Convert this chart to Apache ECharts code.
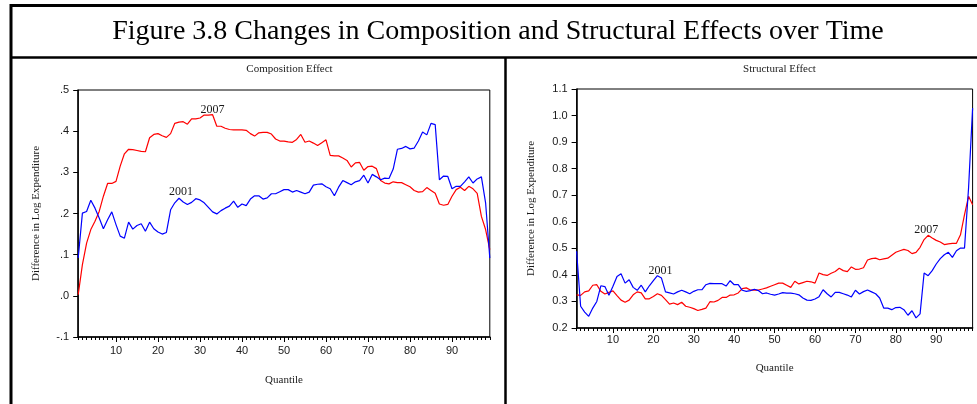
<!DOCTYPE html>
<html>
<head>
<meta charset="utf-8">
<script src="https://cdn.jsdelivr.net/npm/echarts@6/dist/echarts.min.js"></script>
<style>
  html, body { margin: 0; padding: 0; background: #fff; }
  #chart { width: 977px; height: 404px; }
</style>
</head>
<body>
<div id="chart"></div>
<script>
// quantiles 1..99 on the x axis
const quantiles = Array.from({ length: 99 }, (_, i) => i + 1);
const xMajorTicks = [10, 20, 30, 40, 50, 60, 70, 80, 90];

// Composition effect
const composition2007 = [
  0.003, 0.076, 0.128, 0.161, 0.181, 0.205, 0.242, 0.273, 0.273, 0.278,
  0.315, 0.345, 0.356, 0.355, 0.353, 0.351, 0.350, 0.384, 0.392, 0.394,
  0.389, 0.385, 0.394, 0.419, 0.422, 0.423, 0.417, 0.430, 0.430, 0.432,
  0.439, 0.439, 0.440, 0.412, 0.412, 0.407, 0.404, 0.403, 0.403, 0.403,
  0.402, 0.394, 0.388, 0.396, 0.397, 0.397, 0.393, 0.381, 0.376, 0.376,
  0.374, 0.373, 0.380, 0.392, 0.373, 0.376, 0.371, 0.365, 0.372, 0.379,
  0.341, 0.340, 0.340, 0.335, 0.329, 0.313, 0.323, 0.324, 0.305, 0.314,
  0.315, 0.309, 0.280, 0.274, 0.272, 0.277, 0.275, 0.275, 0.270, 0.265,
  0.256, 0.252, 0.253, 0.263, 0.256, 0.249, 0.223, 0.220, 0.222, 0.242,
  0.258, 0.264, 0.256, 0.266, 0.260, 0.249, 0.193, 0.161, 0.112
];
const composition2001 = [
  0.092, 0.201, 0.205, 0.232, 0.213, 0.189, 0.163, 0.185, 0.204, 0.173,
  0.145, 0.140, 0.179, 0.162, 0.171, 0.175, 0.157, 0.179, 0.163, 0.155,
  0.150, 0.154, 0.209, 0.226, 0.237, 0.228, 0.222, 0.227, 0.236, 0.233,
  0.226, 0.215, 0.204, 0.199, 0.207, 0.213, 0.218, 0.230, 0.215, 0.223,
  0.219, 0.235, 0.243, 0.243, 0.235, 0.238, 0.248, 0.248, 0.253, 0.258,
  0.258, 0.252, 0.256, 0.252, 0.248, 0.252, 0.269, 0.271, 0.272, 0.265,
  0.260, 0.243, 0.264, 0.280, 0.275, 0.270, 0.277, 0.280, 0.293, 0.274,
  0.295, 0.289, 0.282, 0.286, 0.285, 0.308, 0.356, 0.358, 0.363, 0.357,
  0.359, 0.376, 0.398, 0.391, 0.419, 0.416, 0.282, 0.291, 0.290, 0.260,
  0.266, 0.266, 0.277, 0.289, 0.274, 0.284, 0.289, 0.226, 0.092
];

// Structural effect
const structural2007 = [
  0.325, 0.323, 0.336, 0.340, 0.361, 0.363, 0.338, 0.328, 0.334, 0.340,
  0.322, 0.305, 0.297, 0.305, 0.325, 0.336, 0.332, 0.310, 0.310, 0.319,
  0.329, 0.323, 0.307, 0.290, 0.294, 0.288, 0.297, 0.282, 0.278, 0.273,
  0.266, 0.270, 0.275, 0.299, 0.298, 0.304, 0.315, 0.315, 0.324, 0.325,
  0.332, 0.348, 0.351, 0.343, 0.343, 0.343, 0.347, 0.351, 0.357, 0.363,
  0.369, 0.369, 0.361, 0.353, 0.376, 0.366, 0.371, 0.376, 0.374, 0.369,
  0.407, 0.401, 0.398, 0.406, 0.413, 0.425, 0.416, 0.412, 0.430, 0.421,
  0.422, 0.427, 0.456, 0.461, 0.463, 0.457, 0.460, 0.463, 0.474, 0.485,
  0.491, 0.496, 0.492, 0.480, 0.485, 0.504, 0.533, 0.549, 0.539, 0.530,
  0.524, 0.514, 0.517, 0.519, 0.519, 0.551, 0.627, 0.696, 0.664
];
const structural2001 = [
  0.489, 0.282, 0.260, 0.244, 0.275, 0.300, 0.359, 0.356, 0.323, 0.357,
  0.394, 0.404, 0.369, 0.382, 0.353, 0.342, 0.361, 0.336, 0.359, 0.378,
  0.397, 0.388, 0.336, 0.332, 0.328, 0.336, 0.342, 0.336, 0.329, 0.338,
  0.344, 0.344, 0.363, 0.368, 0.367, 0.367, 0.367, 0.358, 0.378, 0.363,
  0.363, 0.342, 0.338, 0.341, 0.346, 0.341, 0.329, 0.332, 0.327, 0.324,
  0.328, 0.333, 0.331, 0.331, 0.329, 0.325, 0.313, 0.305, 0.304, 0.309,
  0.318, 0.344, 0.329, 0.317, 0.334, 0.334, 0.329, 0.324, 0.317, 0.342,
  0.328, 0.337, 0.343, 0.336, 0.329, 0.313, 0.275, 0.275, 0.269, 0.277,
  0.278, 0.269, 0.248, 0.265, 0.238, 0.253, 0.407, 0.397, 0.416, 0.441,
  0.461, 0.476, 0.485, 0.466, 0.491, 0.501, 0.501, 0.727, 1.028
];

const serif = 'Liberation Serif';
const sans = 'Liberation Sans';
const ink = '#1a1a1a';

const toPairs = (vals) => vals.map((v, i) => [quantiles[i], v]);

const tag = (vals, q, text, dx, dy) => ({
  symbol: 'circle',
  symbolSize: 0,
  silent: true,
  label: {
    show: true,
    position: 'top',
    distance: 0,
    offset: [dx, dy],
    formatter: text,
    fontFamily: serif,
    fontSize: 12,
    color: ink
  },
  data: [{ coord: [q, vals[q - 1]] }]
});

const lineSeries = {
  type: 'line',
  showSymbol: false,
  symbol: 'none',
  lineStyle: { width: 1.2 }
};

const majorX = (gridIndex, margin) => ({
  type: 'value',
  gridIndex: gridIndex,
  min: 1,
  max: 99,
  position: 'bottom',
  name: 'Quantile',
  nameLocation: 'middle',
  nameGap: gridIndex === 0 ? 38 : 35,
  nameTextStyle: { fontFamily: serif, fontSize: 11, color: ink },
  axisLine: { onZero: false, lineStyle: { color: '#000', width: 1.5 } },
  axisTick: { customValues: xMajorTicks, length: 5, lineStyle: { color: '#000' } },
  axisLabel: { customValues: xMajorTicks, fontFamily: sans, fontSize: 11, color: ink, margin: margin },
  splitLine: { show: false }
});

const minorX = (gridIndex) => ({
  type: 'value',
  gridIndex: gridIndex,
  min: 1,
  max: 99,
  position: 'bottom',
  axisLine: { show: false, onZero: false },
  axisTick: { customValues: quantiles, length: 3, lineStyle: { color: '#000' } },
  axisLabel: { show: false },
  splitLine: { show: false }
});

const yAxisBase = (gridIndex, min, max, fmt, gap) => ({
  type: 'value',
  gridIndex: gridIndex,
  min: min,
  max: max,
  interval: 0.1,
  name: 'Difference in Log Expenditure',
  nameLocation: 'middle',
  nameGap: gap,
  nameTextStyle: { fontFamily: serif, fontSize: 11, color: ink },
  axisLine: { show: true, onZero: false, lineStyle: { color: '#000', width: 1.5 } },
  axisTick: { show: true, length: 5, lineStyle: { color: '#000' } },
  axisLabel: { formatter: fmt, fontFamily: sans, fontSize: 11, color: ink, margin: 9 },
  splitLine: { show: false }
});

const chart = echarts.init(document.getElementById('chart'), null, { renderer: 'canvas' });

const option = {
  animation: false,
  backgroundColor: '#fff',
  title: [
    {
      text: 'Figure 3.8 Changes in Composition and Structural Effects over Time',
      left: 493,
      top: 13,
      textAlign: 'center',
      textStyle: { fontFamily: serif, fontSize: 28, fontWeight: 'normal', color: '#000' }
    },
    {
      text: 'Composition Effect',
      left: 284.5,
      top: 59,
      textAlign: 'center',
      textStyle: { fontFamily: serif, fontSize: 11, fontWeight: 'normal', color: ink }
    },
    {
      text: 'Structural Effect',
      left: 774.5,
      top: 59,
      textAlign: 'center',
      textStyle: { fontFamily: serif, fontSize: 11, fontWeight: 'normal', color: ink }
    }
  ],
  graphic: [
    { type: 'line', shape: { x1: 10, y1: 5.5, x2: 977, y2: 5.5 }, style: { stroke: '#000', lineWidth: 3 } },
    { type: 'line', shape: { x1: 11, y1: 4, x2: 11, y2: 404 }, style: { stroke: '#000', lineWidth: 3 } },
    { type: 'line', shape: { x1: 10, y1: 57.5, x2: 977, y2: 57.5 }, style: { stroke: '#000', lineWidth: 2.5 } },
    { type: 'line', shape: { x1: 505.5, y1: 57, x2: 505.5, y2: 404 }, style: { stroke: '#000', lineWidth: 2.5 } }
  ],
  grid: [
    { left: 78.2, top: 90, width: 411.6, height: 247, show: true, borderColor: '#000', borderWidth: 1 },
    { left: 576.6, top: 89, width: 396, height: 239, show: true, borderColor: '#000', borderWidth: 1 }
  ],
  xAxis: [majorX(0, 8), minorX(0), majorX(1, 6), minorX(1)],
  yAxis: [
    yAxisBase(0, -0.1, 0.5, (v) => v.toFixed(1).replace(/^(-?)0\./, '$1.'), 37),
    yAxisBase(1, 0.2, 1.1, (v) => v.toFixed(1), 40)
  ],
  series: [
    {
      ...lineSeries, name: '2007', xAxisIndex: 0, yAxisIndex: 0,
      color: '#ff0000', data: toPairs(composition2007),
      markPoint: tag(composition2007, 33, '2007', 0, 1)
    },
    {
      ...lineSeries, name: '2001', xAxisIndex: 0, yAxisIndex: 0,
      color: '#0000ff', data: toPairs(composition2001),
      markPoint: tag(composition2001, 25, '2001', 2, 0)
    },
    {
      ...lineSeries, name: '2007', xAxisIndex: 2, yAxisIndex: 1,
      color: '#ff0000', data: toPairs(structural2007),
      markPoint: tag(structural2007, 88, '2007', -2, 1)
    },
    {
      ...lineSeries, name: '2001', xAxisIndex: 2, yAxisIndex: 1,
      color: '#0000ff', data: toPairs(structural2001),
      markPoint: tag(structural2001, 21, '2001', 3, 1)
    }
  ]
};
chart.setOption(option);
</script>
</body>
</html>
